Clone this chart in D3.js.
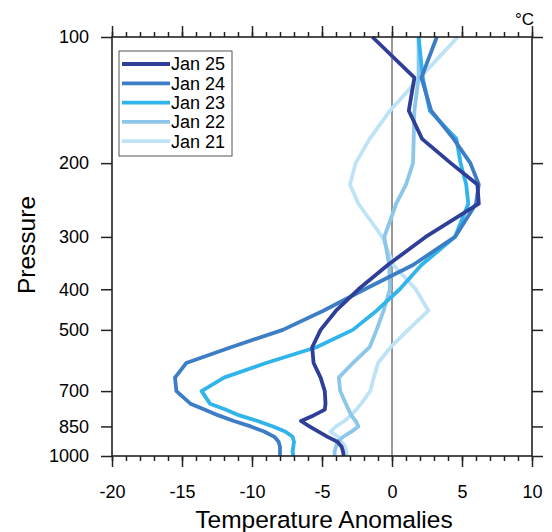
<!DOCTYPE html>
<html>
<head>
<meta charset="utf-8">
<script src="https://cdn.jsdelivr.net/npm/d3@7"></script>
<style>
  body { margin: 0; background: #fff; }
  svg { display: block; font-family: "Liberation Sans", Arial, Helvetica, sans-serif; }
</style>
</head>
<body>
<div id="container"></div>
<script>
// pressure levels (hPa)
const levels = [1000, 975, 950, 925, 900, 875, 850, 825, 800, 775, 750, 700, 650, 600, 550, 500, 450, 400, 350, 300, 250, 225, 200, 175, 150, 125, 100];

// temperature anomalies at each level
const jan25 = [-3.45, -3.5, -3.6, -3.9, -4.6, -5.25, -5.9, -6.5, -5.6, -4.8, -4.75, -4.8, -5.1, -5.6, -5.7, -5.1, -4.0, -2.4, -0.3, 2.4, 6.2, 6.1, 4.2, 2.15, 1.2, 1.6, -1.4];
const jan24 = [-8.0, -8.0, -8.0, -8.1, -8.4, -9.1, -10.1, -11.3, -12.4, -13.4, -14.4, -15.4, -15.5, -14.7, -11.5, -7.8, -4.9, -1.95, 1.5, 4.5, 6.0, 6.2, 5.6, 4.4, 2.8, 2.1, 3.2];
const jan23 = [-7.05, -7.1, -7.05, -7.0, -7.1, -7.6, -8.5, -9.6, -10.9, -11.9, -13.0, -13.6, -12.0, -9.0, -5.4, -2.8, -1.1, 0.55, 2.1, 4.5, 5.45, 5.3, 4.9, 4.6, 2.7, 2.2, 1.9];
const jan22 = [-4.1, -4.1, -4.0, -3.9, -3.5, -2.9, -2.4, -2.6, -2.9, -3.1, -3.3, -3.7, -3.8, -2.8, -1.6, -1.1, -0.6, -0.15, -0.2, -0.55, 0.3, 1.0, 1.5, 1.55, 1.6, 1.9, 1.9];
const jan21 = [-3.2, -3.25, -3.35, -3.6, -3.85, -4.4, -4.0, -3.4, -2.95, -2.55, -2.2, -1.55, -1.3, -1.0, -0.1, 1.15, 2.6, 1.7, 0.1, -0.7, -2.4, -3.0, -2.6, -1.6, -0.15, 2.0, 4.7];

const seriesNames = ["Jan 25", "Jan 24", "Jan 23", "Jan 22", "Jan 21"];
const seriesValues = [jan25, jan24, jan23, jan22, jan21];
const seriesColors = ["#2f3f98", "#3d7dc5", "#31b4ea", "#8cc7ea", "#bfe3f6"];

const xTicks = [-20, -15, -10, -5, 0, 5, 10];
const yTicks = [100, 200, 300, 400, 500, 700, 850, 1000];

function chart() {
    var width = 552, height = 532;
    var pLeft = 112, pRight = 532, pTop = 37, pBottom = 456;

    const x = d3.scaleLinear().domain([-20, 10]).range([pLeft, pRight]);
    const y = d3.scaleLog().domain([100, 1000]).range([pTop, pBottom]);

    const svg = d3.select("div#container").append("svg")
        .attr("width", width)
        .attr("height", height);

    // zero line
    svg.append("line")
        .attr("x1", x(0)).attr("x2", x(0))
        .attr("y1", pTop).attr("y2", pBottom)
        .attr("stroke", "#333")
        .attr("stroke-width", 1);

    // profiles, oldest first so Jan 25 sits on top
    const line = d3.line()
        .x(d => x(d[0]))
        .y(d => y(d[1]));

    const order = [4, 3, 2, 1, 0];
    svg.append("g")
        .attr("fill", "none")
        .attr("stroke-width", 3.8)
        .attr("stroke-linejoin", "round")
        .selectAll("path")
        .data(order)
        .join("path")
        .attr("stroke", i => seriesColors[i])
        .attr("d", i => line(seriesValues[i].map((v, j) => [v, levels[j]])));

    // axes
    const minor = d3.range(-20, 11, 1);
    const fmt = d => String(d);

    function styleAxis(g) {
        g.select(".domain").remove();
        g.selectAll("line").attr("stroke", "#222").attr("stroke-width", 1.5);
        g.selectAll("text").attr("fill", "#000").attr("font-size", 18)
            .attr("font-family", "Liberation Sans, Arial, sans-serif");
    }

    svg.append("g")
        .attr("transform", `translate(0,${pBottom})`)
        .call(d3.axisBottom(x).tickValues(minor).tickSize(5).tickFormat(""))
        .call(styleAxis);
    svg.append("g")
        .attr("transform", `translate(0,${pBottom})`)
        .call(d3.axisBottom(x).tickValues(xTicks).tickSize(11).tickPadding(18).tickFormat(fmt))
        .call(styleAxis);
    svg.append("g")
        .attr("transform", `translate(0,${pTop})`)
        .call(d3.axisTop(x).tickValues(minor).tickSize(5).tickFormat(""))
        .call(styleAxis);
    svg.append("g")
        .attr("transform", `translate(0,${pTop})`)
        .call(d3.axisTop(x).tickValues(xTicks).tickSize(11).tickFormat(""))
        .call(styleAxis);
    svg.append("g")
        .attr("transform", `translate(${pLeft},0)`)
        .call(d3.axisLeft(y).tickValues(yTicks).tickSize(11).tickPadding(12).tickFormat(fmt))
        .call(styleAxis);
    svg.append("g")
        .attr("transform", `translate(${pRight},0)`)
        .call(d3.axisRight(y).tickValues(yTicks).tickSize(11).tickFormat(""))
        .call(styleAxis);

    // frame
    svg.append("rect")
        .attr("x", pLeft).attr("y", pTop)
        .attr("width", pRight - pLeft).attr("height", pBottom - pTop)
        .attr("fill", "none")
        .attr("stroke", "#222")
        .attr("stroke-width", 1.6);

    // titles
    svg.append("text")
        .attr("x", (pLeft + pRight) / 2 + 2)
        .attr("y", 528)
        .attr("text-anchor", "middle")
        .attr("font-size", 24.5)
        .text("Temperature Anomalies");

    svg.append("text")
        .attr("transform", "translate(35,245) rotate(-90)")
        .attr("text-anchor", "middle")
        .attr("font-size", 24.5)
        .text("Pressure");

    svg.append("text")
        .attr("x", 534)
        .attr("y", 25)
        .attr("text-anchor", "end")
        .attr("font-size", 17)
        .text("°C");

    // legend
    const legend = svg.append("g");
    legend.append("rect")
        .attr("x", 119).attr("y", 51)
        .attr("width", 113).attr("height", 105)
        .attr("fill", "#fff")
        .attr("stroke", "#555")
        .attr("stroke-width", 1);

    const item = legend.selectAll("g.item")
        .data(seriesNames)
        .join("g")
        .attr("class", "item")
        .attr("transform", (d, i) => `translate(0,${64 + i * 19.3})`);

    item.append("line")
        .attr("x1", 122).attr("x2", 170)
        .attr("stroke", (d, i) => seriesColors[i])
        .attr("stroke-width", 3.8);

    item.append("text")
        .attr("x", 171)
        .attr("dy", "0.36em")
        .attr("font-size", 18)
        .text(d => d);
}

chart();
</script>
</body>
</html>
